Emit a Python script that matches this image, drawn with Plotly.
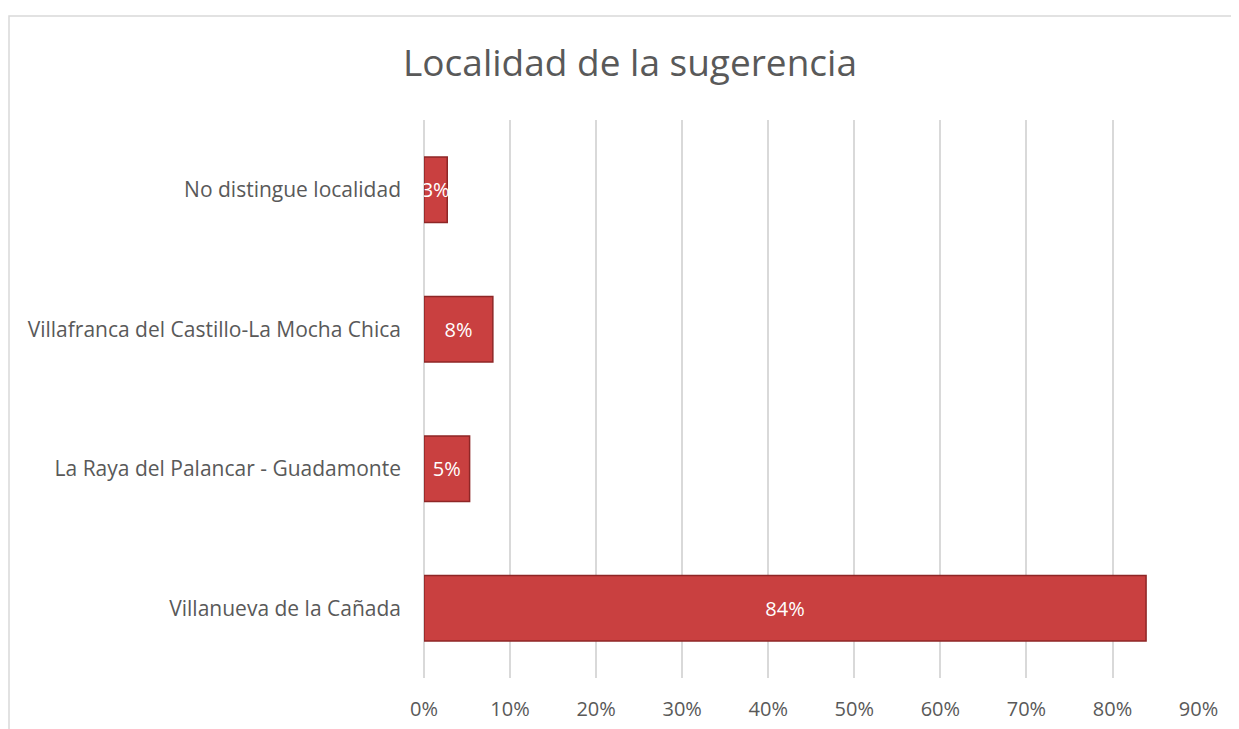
import plotly.graph_objects as go

# datos (de abajo hacia arriba, como en el gráfico)
localidades = ['Villanueva de la Cañada',
               'La Raya del Palancar - Guadamonte',
               'Villafranca del Castillo-La Mocha Chica',
               'No distingue localidad']
porcentajes = [0.839, 0.053, 0.080, 0.027]
etiquetas = ['84%', '5%', '8%', '3%']
ticks_x = [0, 0.1, 0.2, 0.3, 0.4, 0.5, 0.6, 0.7, 0.8, 0.9]

fuente = 'Open Sans, Noto Sans, sans-serif'

# la página añade 8 px de margen al body: se compensa en los márgenes
off = 8
W, H = 1239 - off, 729 - off
izq, der, arr, aba = 424 - off, 1199 - off, 120 - off, 678 - off
ancho_plot = der - izq
alto_plot = aba - arr

fig = go.Figure()

fig.add_trace(go.Bar(x=porcentajes,
                     y=localidades,
                     orientation='h',
                     text=etiquetas,
                     textposition='inside',
                     insidetextanchor='middle',
                     textangle=0,
                     constraintext='none',
                     textfont=dict(color='white', size=20, family=fuente),
                     marker=dict(color='#c94040', line=dict(color='#8e2626', width=1.5)),
                     hoverinfo='skip'))

# marco del área del gráfico
fig.add_shape(type='rect', xref='paper', yref='paper',
              x0=(9 - off - izq) / ancho_plot, x1=1.2,
              y0=-0.3, y1=(aba - (16 - off)) / alto_plot,
              line=dict(color='#d9d9d9', width=1.5), fillcolor='rgba(0,0,0,0)',
              layer='below')

fig.update_layout(
    width=W, height=H,
    margin=dict(l=izq, r=W - der, t=arr, b=H - aba),
    paper_bgcolor='white', plot_bgcolor='white',
    showlegend=False,
    bargap=0.53,
    title=dict(text='Localidad de la sugerencia', xref='container', x=(630 - off) / W,
               xanchor='center', yref='container', y=1 - (63 - off) / H, yanchor='middle',
               font=dict(family=fuente, size=37, color='#595959')),
    xaxis=dict(range=[0, 0.9005], tickvals=ticks_x, tickformat='.0%',
               automargin=False,
               showgrid=True, gridcolor='#d9d9d9', gridwidth=1.5,
               zeroline=True, zerolinecolor='#d9d9d9', zerolinewidth=1.5,
               showline=False,
               ticklabelstandoff=17,
               tickfont=dict(family=fuente, size=20, color='#595959')),
    yaxis=dict(categoryorder='array', categoryarray=localidades,
               automargin=False,
               showgrid=False, zeroline=False, showline=False,
               ticklabelstandoff=22,
               tickfont=dict(family=fuente, size=21, color='#595959')),
)

fig.write_html('out.html')
